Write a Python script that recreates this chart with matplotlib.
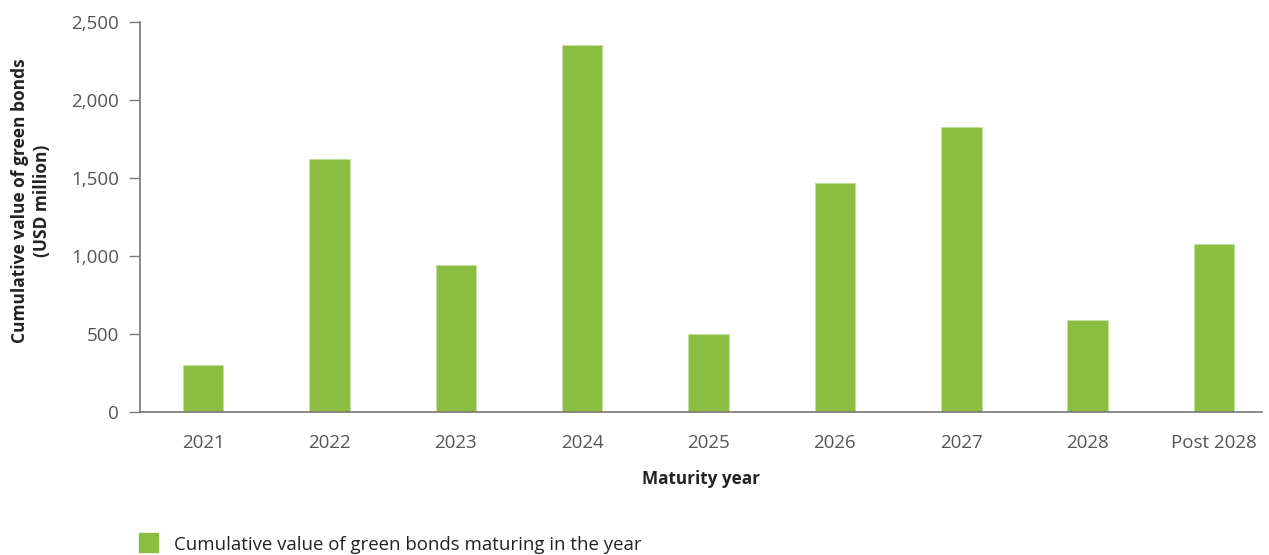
#!/usr/bin/env python

import numpy as np
import matplotlib.pyplot as plt
from matplotlib.patches import Rectangle

years = ["2021", "2022", "2023", "2024", "2025", "2026", "2027", "2028", "Post 2028"]
values = [300, 1620, 940, 2350, 500, 1470, 1830, 590, 1075]
yticks = [0, 500, 1000, 1500, 2000, 2500]

green = "#8bbd41"
grey = "#555555"

plt.rcParams['font.family'] = ['Open Sans', 'DejaVu Sans']

fig = plt.figure(figsize=(12.69, 5.55), dpi=100)
ax = fig.add_axes([140/1269, 143/555, 1122/1269, 390/555])

x = np.arange(len(years))
ax.bar(x, values, width=0.32, color=green, edgecolor="#c5e0a0", linewidth=0.6)

ax.set_xlim(-0.5, 8.38)
ax.set_ylim(0, 2500)
ax.set_xticks(x)
ax.set_xticklabels(years)
ax.set_yticks(yticks)
ax.set_yticklabels(["{:,}".format(v) for v in yticks])

ax.tick_params(axis="x", length=0, pad=16, labelsize=13.5, labelcolor=grey)
ax.tick_params(axis="y", length=8, width=1, color="#777777", pad=7, labelsize=13.5, labelcolor=grey)

for s in ["top", "right"]:
    ax.spines[s].set_visible(False)
for s in ["left", "bottom"]:
    ax.spines[s].set_color("#777777")
    ax.spines[s].set_linewidth(1.2)

ax.set_xlabel("Maturity year", fontsize=12.3, fontweight="bold", color="#222222", labelpad=13)
fig.text(31/1269, 1 - 201/555, "Cumulative value of green bonds\n(USD million)", rotation=90,
         ha="center", va="center", fontsize=12.5, fontweight="bold", color="#222222",
         linespacing=1.3)

# legend
fig.patches.append(Rectangle((139/1269, 3/555), 19/1269, 19/555, transform=fig.transFigure,
                             color=green, figure=fig))
fig.text(174/1269, 1 - 545/555, "Cumulative value of green bonds maturing in the year",
         ha="left", va="center", fontsize=13.4, color="#222222")

plt.savefig("out.png", dpi=100)
